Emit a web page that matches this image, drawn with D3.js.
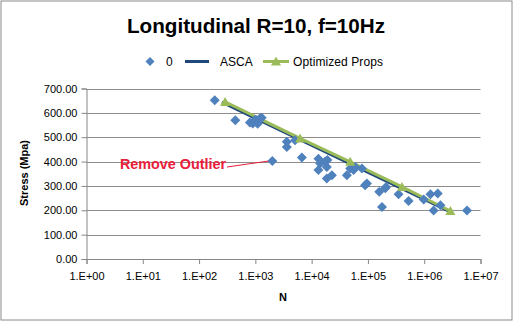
<!DOCTYPE html>
<html><head><meta charset="utf-8">
<script src="https://cdn.jsdelivr.net/npm/d3@7"></script>
<style>body{margin:0;background:#fff}svg{display:block}text{font-family:"Liberation Sans",Arial,sans-serif}</style>
</head><body><svg id="c" width="514" height="322"></svg>
<script>
// Scatter series "0": cycles to failure N and stress (MPa)
const testN = [190,440,800,950,1060,1213,1100,1000,900,1300,2000,3620,3620,5080,6700,13200,13200,17400,18600,19100,14200,18600,22900,42300,48400,55500,59400,78200,96000,89000,159000,203000,178000,210000,350000,527000,980000,1290000,1740000,1940000,1470000,5750000];
const testStress = [652,570,560,566,570,578,555,572,556,580,402,481,460,488,417,412,365,400,378,406,392,331,344,344,372,365,378,372,310,303,276,290,214,296,266,238,244,266,269,221,199,199];
// ASCA line
const ascaN = [255,2690000];
const ascaStress = [644,197];
// Optimized Props line
const optN = [290,6240,48400,403000,2920000];
const optStress = [645,495,399,296,197];
// Axis ticks
const xTicks = [1,10,100,1000,10000,100000,1000000,10000000];
const xTickLabels = ["1.E+00","1.E+01","1.E+02","1.E+03","1.E+04","1.E+05","1.E+06","1.E+07"];
const yTicks = [0,100,200,300,400,500,600,700];

const svg = d3.select("#c");
svg.append("rect").attr("x",1).attr("y",1).attr("width",511).attr("height",319)
  .attr("fill","#fff").attr("stroke","#8a8a8a").attr("stroke-width",1);

const x = d3.scaleLog().domain([1,1e7]).range([86.5,480.5]);
const y = d3.scaleLinear().domain([0,700]).range([259,88.5]);

// gridlines
svg.append("g").selectAll("line").data(yTicks.filter(d=>d>0)).join("line")
  .attr("x1",x(1)).attr("x2",x(1e7)).attr("y1",d=>Math.round(y(d))+0.5).attr("y2",d=>Math.round(y(d))+0.5)
  .attr("stroke","#8c8c8c").attr("stroke-width",1);

// axes
const yAxis = d3.axisLeft(y).tickValues(yTicks).tickFormat(d3.format(".2f")).tickSizeOuter(0).tickSize(5).tickPadding(4);
const gy = svg.append("g").attr("transform",`translate(${x(1)},0)`).call(yAxis);
const xAxis = d3.axisBottom(x).tickValues(xTicks).tickFormat((d,i)=>xTickLabels[i]).tickSizeOuter(0).tickSize(5).tickPadding(8);
const gx = svg.append("g").attr("transform",`translate(0,${y(0)})`).call(xAxis);
[gx,gy].forEach(g=>{
  g.selectAll("path,line").attr("stroke","#868686");
  g.selectAll("text").attr("font-size","11px").attr("fill","#000").style("font-family","'Liberation Sans',Arial,sans-serif");
});

// ASCA line
const line = d3.line().x(d=>x(d[0])).y(d=>y(d[1]));
svg.append("path").datum(ascaN.map((n,i)=>[n,ascaStress[i]]))
  .attr("d",line).attr("fill","none").attr("stroke","#1F497D").attr("stroke-width",3);
// Optimized line
const optData = optN.map((n,i)=>[n,optStress[i]]);
svg.append("path").datum(optData).attr("d",line).attr("fill","none").attr("stroke","#9BBB59").attr("stroke-width",3);

// scatter diamonds
const diamond = "M0,-5L5,0L0,5L-5,0Z";
svg.append("g").selectAll("path").data(testN.map((n,i)=>[n,testStress[i]])).join("path")
  .attr("d",diamond).attr("transform",d=>`translate(${x(d[0])},${y(d[1])})`).attr("fill","#4F81BD");

// triangles
const tri = "M0,-5L5,4L-5,4Z";
svg.append("g").selectAll("path").data(optData).join("path")
  .attr("d",tri).attr("transform",d=>`translate(${x(d[0])},${y(d[1])})`).attr("fill","#9BBB59");

// title
svg.append("text").attr("x",256).attr("y",33).attr("text-anchor","middle")
  .attr("font-size","20px").attr("font-weight","bold").attr("textLength",258).attr("lengthAdjust","spacingAndGlyphs")
  .text("Longitudinal R=10, f=10Hz");

// legend
const ly = 61.5;
svg.append("path").attr("d",diamond).attr("transform",`translate(150,${ly}) scale(0.9)`).attr("fill","#4F81BD");
svg.append("text").attr("x",166).attr("y",ly+4).attr("font-size","12px").text("0");
svg.append("line").attr("x1",185).attr("x2",209).attr("y1",ly).attr("y2",ly).attr("stroke","#1F497D").attr("stroke-width",3);
svg.append("text").attr("x",220).attr("y",ly+4).attr("font-size","12px").text("ASCA");
svg.append("line").attr("x1",263).attr("x2",289).attr("y1",ly).attr("y2",ly).attr("stroke","#9BBB59").attr("stroke-width",3);
svg.append("path").attr("d",tri).attr("transform",`translate(276,${ly})`).attr("fill","#9BBB59");
svg.append("text").attr("x",293).attr("y",ly+4).attr("font-size","12px").attr("textLength",90).attr("lengthAdjust","spacing").text("Optimized Props");

// axis titles
svg.append("text").attr("x",283).attr("y",301).attr("text-anchor","middle").attr("font-size","11px").attr("font-weight","bold").text("N");
svg.append("text").attr("transform","translate(28,173) rotate(-90)").attr("text-anchor","middle")
  .attr("font-size","11px").attr("font-weight","bold").text("Stress (Mpa)");

// annotation
svg.append("line").attr("x1",227).attr("y1",167).attr("x2",x(2000)-4).attr("y2",y(402)).attr("stroke","#E8203A").attr("stroke-width",1);
svg.append("text").attr("x",120).attr("y",169).attr("font-size","14px").attr("font-weight","bold").attr("fill","#E8203A")
  .attr("textLength",106).attr("lengthAdjust","spacingAndGlyphs").text("Remove Outlier");
</script></body></html>
